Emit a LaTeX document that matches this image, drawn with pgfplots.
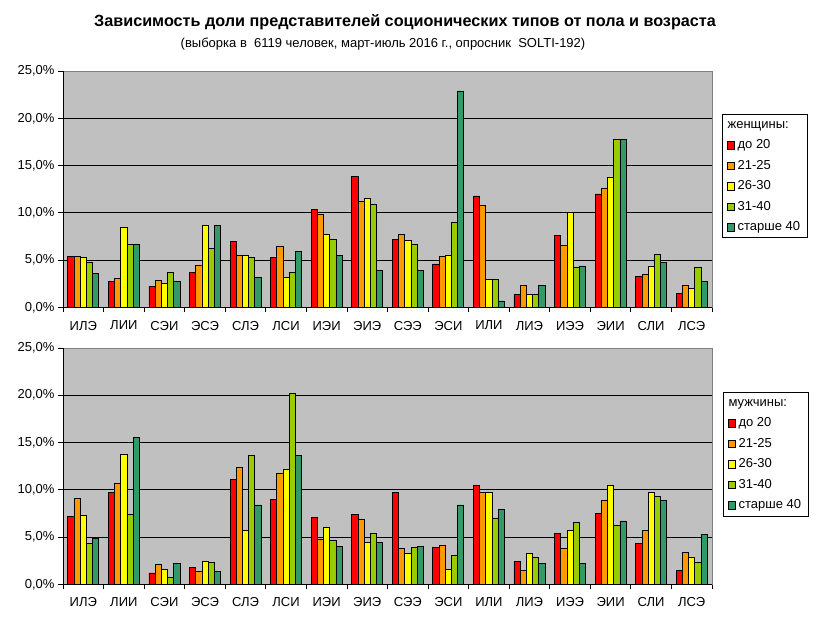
\documentclass[border=0pt]{standalone}
\usepackage{pgfplots}
\pgfplotsset{compat=1.18}
\usepackage{pgfplotstable}
\usepackage{fontspec}
\setmainfont{Liberation Sans}
\definecolor{cA}{HTML}{FF0000}
\definecolor{cB}{HTML}{FF9900}
\definecolor{cC}{HTML}{FFFF00}
\definecolor{cD}{HTML}{99CC00}
\definecolor{cE}{HTML}{339966}
\definecolor{bg}{HTML}{C0C0C0}
\definecolor{brd}{HTML}{808080}

\pgfplotstableread{
x a b c d e
0 5.4 5.4 5.3 4.8 3.6
1 2.8 3.1 8.5 6.7 6.7
2 2.2 2.9 2.5 3.7 2.8
3 3.7 4.5 8.7 6.2 8.7
4 7.0 5.5 5.5 5.3 3.2
5 5.3 6.5 3.2 3.7 5.9
6 10.4 9.8 7.7 7.2 5.5
7 13.9 11.2 11.5 10.9 3.9
8 7.2 7.7 7.1 6.7 3.9
9 4.6 5.4 5.5 9.0 22.9
10 11.8 10.8 3.0 3.0 0.7
11 1.4 2.3 1.4 1.4 2.3
12 7.6 6.6 10.1 4.2 4.4
13 12.0 12.6 13.8 17.8 17.8
14 3.3 3.5 4.4 5.6 4.8
15 1.5 2.3 2.0 4.2 2.8
}\women

\pgfplotstableread{
x a b c d e
0 7.2 9.1 7.3 4.3 4.9
1 9.7 10.7 13.8 7.4 15.5
2 1.2 2.1 1.6 0.7 2.2
3 1.8 1.4 2.4 2.3 1.4
4 11.1 12.4 5.7 13.6 8.4
5 9.0 11.7 12.2 20.2 13.6
6 7.1 4.8 6.0 4.7 4.0
7 7.4 6.9 4.4 5.4 4.4
8 9.7 3.8 3.3 3.9 4.0
9 3.9 4.1 1.6 3.1 8.4
10 10.5 9.7 9.7 7.0 7.9
11 2.4 1.5 3.3 2.8 2.2
12 5.4 3.8 5.7 6.6 2.2
13 7.5 8.9 10.5 6.2 6.7
14 4.3 5.7 9.7 9.3 8.9
15 1.5 3.4 2.9 2.3 5.3
}\men

\pgfplotsset{
  sw/.style={fill=#1, draw=black, line width=0.7pt,
    legend image code/.code={\draw[##1,line width=0.6pt] (0pt,-3.8pt) rectangle (7.6pt,3.8pt);}},
  chartstyle/.style={
    scale only axis, width=649pt, height=236.5pt,
    ybar=0pt, bar width=6.2pt,
    xmin=-0.5, xmax=15.5, ymin=0, ymax=25,
    xtick={0,...,15},
    xticklabels={ИЛЭ,ЛИИ,СЭИ,ЭСЭ,СЛЭ,ЛСИ,ИЭИ,ЭИЭ,СЭЭ,ЭСИ,ИЛИ,ЛИЭ,ИЭЭ,ЭИИ,СЛИ,ЛСЭ},
    minor xtick={-0.5,0.5,...,15.5},
    ytick={0,5,...,25},
    yticklabels={{0,0\%},{5,0\%},{10,0\%},{15,0\%},{20,0\%},{25,0\%}},
    ymajorgrids, grid style={black, line width=0.8pt},
    axis background/.style={fill=bg},
    axis line style={brd, line width=0.8pt},
    tick align=outside, tick pos=left,
    major tick length=5pt, minor tick length=5pt,
    tick style={black, line width=0.8pt},
    major x tick style={draw=none},
    ticklabel style={font=\fontsize{13}{15}\selectfont},
    xticklabel style={yshift=-5pt},
    /pgf/number format/assume math mode=true,
    legend cell align=left,
    legend style={anchor=north west, draw=black, line width=0.8pt, fill=white,
      font=\fontsize{13}{15}\selectfont, inner sep=4.5pt, row sep=8.5pt,
      nodes={inner xsep=2.5pt, inner ysep=0pt, text height=9.5pt, text depth=2.5pt}},
    after end axis/.code={
      \draw[brd,line width=0.8pt] (rel axis cs:0,1) -- (rel axis cs:1,1) -- (rel axis cs:1,0);
      \draw[black,line width=0.8pt] (rel axis cs:0,1) -- (rel axis cs:0,0) -- (rel axis cs:1,0);
    },
  }
}

\begin{document}
\begin{tikzpicture}
\useasboundingbox (0,0) rectangle (828pt,-628pt);
\node[font=\bfseries\fontsize{16.2}{18}\selectfont] at (405pt,-22pt) {Зависимость доли представителей соционических типов от пола и возраста};
\node[font=\fontsize{13}{15}\selectfont] at (383pt,-44pt) {(выборка в\ \ 6119 человек, март-июль 2016 г., опросник\ \ SOLTI-192)};

\begin{axis}[chartstyle, at={(63pt,-307.5pt)}, anchor=south west,
  legend style={at={(1.0154,0.8182)}},
  legend entries={\hspace*{-10pt}женщины:,до 20,21-25,26-30,31-40,старше 40}]
\addlegendimage{empty legend}
\addplot[sw=cA] table[x=x,y=a]{\women};
\addplot[sw=cB] table[x=x,y=b]{\women};
\addplot[sw=cC] table[x=x,y=c]{\women};
\addplot[sw=cD] table[x=x,y=d]{\women};
\addplot[sw=cE] table[x=x,y=e]{\women};
\end{axis}

\begin{axis}[chartstyle, at={(63pt,-584.3pt)}, anchor=south west, height=236.3pt,
  legend style={at={(1.0169,0.8138)}},
  legend entries={\hspace*{-10pt}мужчины:,до 20,21-25,26-30,31-40,старше 40}]
\addlegendimage{empty legend}
\addplot[sw=cA] table[x=x,y=a]{\men};
\addplot[sw=cB] table[x=x,y=b]{\men};
\addplot[sw=cC] table[x=x,y=c]{\men};
\addplot[sw=cD] table[x=x,y=d]{\men};
\addplot[sw=cE] table[x=x,y=e]{\men};
\end{axis}
\end{tikzpicture}
\end{document}
